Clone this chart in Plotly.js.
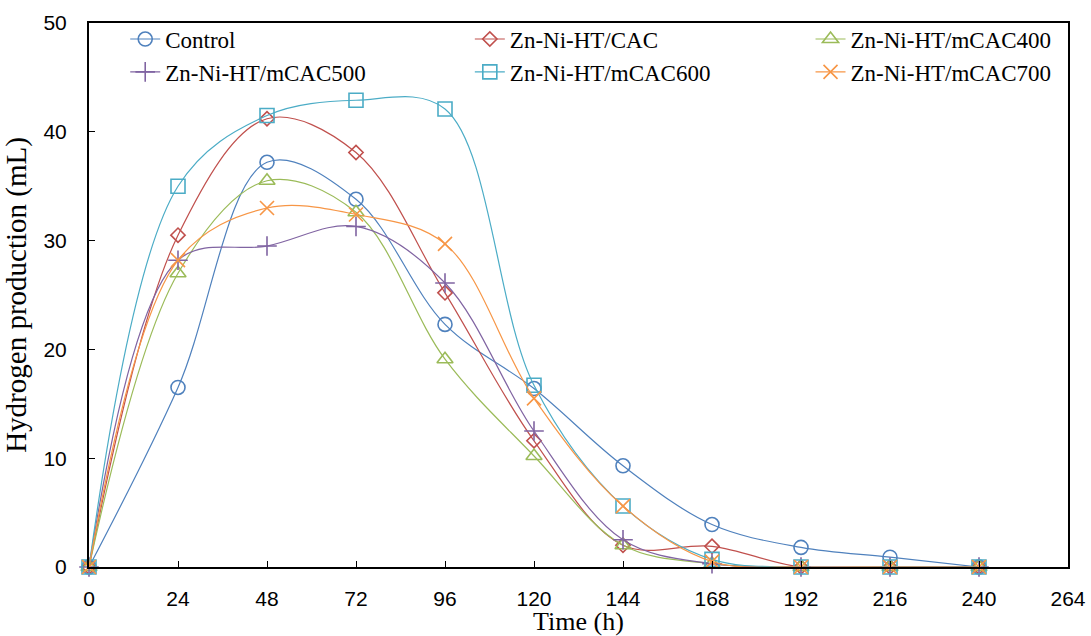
<!DOCTYPE html>
<html>
<head>
<meta charset="utf-8">
<script src="https://cdn.plot.ly/plotly-3.0.1.min.js"></script>
<style>html,body{margin:0;padding:0;background:#fff;}#chart{width:1091px;height:636px;}</style>
</head>
<body>
<div id="chart"></div>
<script>
const time = [0, 24, 48, 72, 96, 120, 144, 168, 192, 216, 240];
const seriesNames = ["Control", "Zn-Ni-HT/CAC", "Zn-Ni-HT/mCAC400", "Zn-Ni-HT/mCAC500", "Zn-Ni-HT/mCAC600", "Zn-Ni-HT/mCAC700"];
const control  = [0, 16.5, 37.2, 33.8, 22.3, 16.4, 9.3, 3.9, 1.8, 0.9, 0];
const cac      = [0, 30.5, 41.2, 38.1, 25.2, 11.6, 2.0, 1.9, 0, 0, 0];
const mcac400  = [0, 27.0, 35.5, 32.6, 19.1, 10.2, 2.0, 0.3, 0, 0, 0];
const mcac500  = [0, 28.2, 29.5, 31.3, 26.1, 12.5, 2.5, 0.3, 0, 0, 0];
const mcac600  = [0, 35.0, 41.5, 42.9, 42.1, 16.7, 5.6, 0.7, 0, 0, 0];
const mcac700  = [0, 28.2, 33.0, 32.4, 29.7, 15.5, 5.6, 0.5, 0, 0, 0];
const xTicks = [0, 24, 48, 72, 96, 120, 144, 168, 192, 216, 240, 264];
const yTicks = [0, 10, 20, 30, 40, 50];

const values = [control, cac, mcac400, mcac500, mcac600, mcac700];
const colors = ["#4F81BD", "#C0504D", "#9BBB59", "#8064A2", "#4BACC6", "#F79646"];
const symbols = ["circle-open", "diamond-open", "triangle-up-open", "cross-thin-open", "square-open", "x-thin-open"];
const sizes = [14, 11, 14, 14, 14, 14];
const legendOf = ["legend", "legend2", "legend3", "legend", "legend2", "legend3"];

const traces = values.map((v, i) => ({
  x: time, y: v, name: seriesNames[i], type: "scatter", mode: "lines+markers",
  legend: legendOf[i],
  line: {color: colors[i], width: 1.2, shape: "spline", smoothing: 1},
  marker: {symbol: symbols[i], size: sizes[i], color: colors[i], line: {color: colors[i], width: 1.6}},
  cliponaxis: false
}));

const serif = "Liberation Serif, Times New Roman, serif";
const sans = "Liberation Sans, Arial, sans-serif";
function leg(x) {
  return {
    orientation: "v", x: x, y: 1.01, xanchor: "left", yanchor: "top",
    font: {family: serif, size: 23, color: "#000"},
    bgcolor: "rgba(0,0,0,0)", tracegroupgap: 0, borderwidth: 0
  };
}

const layout = {
  width: 1091, height: 636,
  margin: {l: 89, r: 23, t: 23, b: 69},
  paper_bgcolor: "#fff", plot_bgcolor: "#fff",
  font: {family: serif, size: 23, color: "#000"},
  showlegend: true,
  legend: leg(0.037),
  legend2: leg(0.389),
  legend3: leg(0.737),
  xaxis: {
    range: [0, 264], tickvals: xTicks, ticktext: xTicks.map(String),
    showgrid: false, zeroline: false, showline: true, linecolor: "#000", linewidth: 2, mirror: true,
    ticks: "inside", ticklen: 6, tickwidth: 1, tickcolor: "#000", ticklabelstandoff: 12,
    tickfont: {family: sans, size: 21, color: "#000"},
    title: {text: "Time (h)", font: {family: serif, size: 26, color: "#000"}, standoff: 0}
  },
  yaxis: {
    range: [0, 50], tickvals: yTicks, ticktext: yTicks.map(String),
    showgrid: false, zeroline: false, showline: true, linecolor: "#000", linewidth: 2, mirror: true,
    ticks: "inside", ticklen: 6, tickwidth: 1, tickcolor: "#000", ticklabelstandoff: 16,
    tickfont: {family: sans, size: 21, color: "#000"},
    title: {text: "Hydrogen production (mL)", font: {family: serif, size: 29, color: "#000"}, standoff: 12}
  }
};

Plotly.newPlot("chart", traces, layout, {displayModeBar: false});
</script>
</body>
</html>
